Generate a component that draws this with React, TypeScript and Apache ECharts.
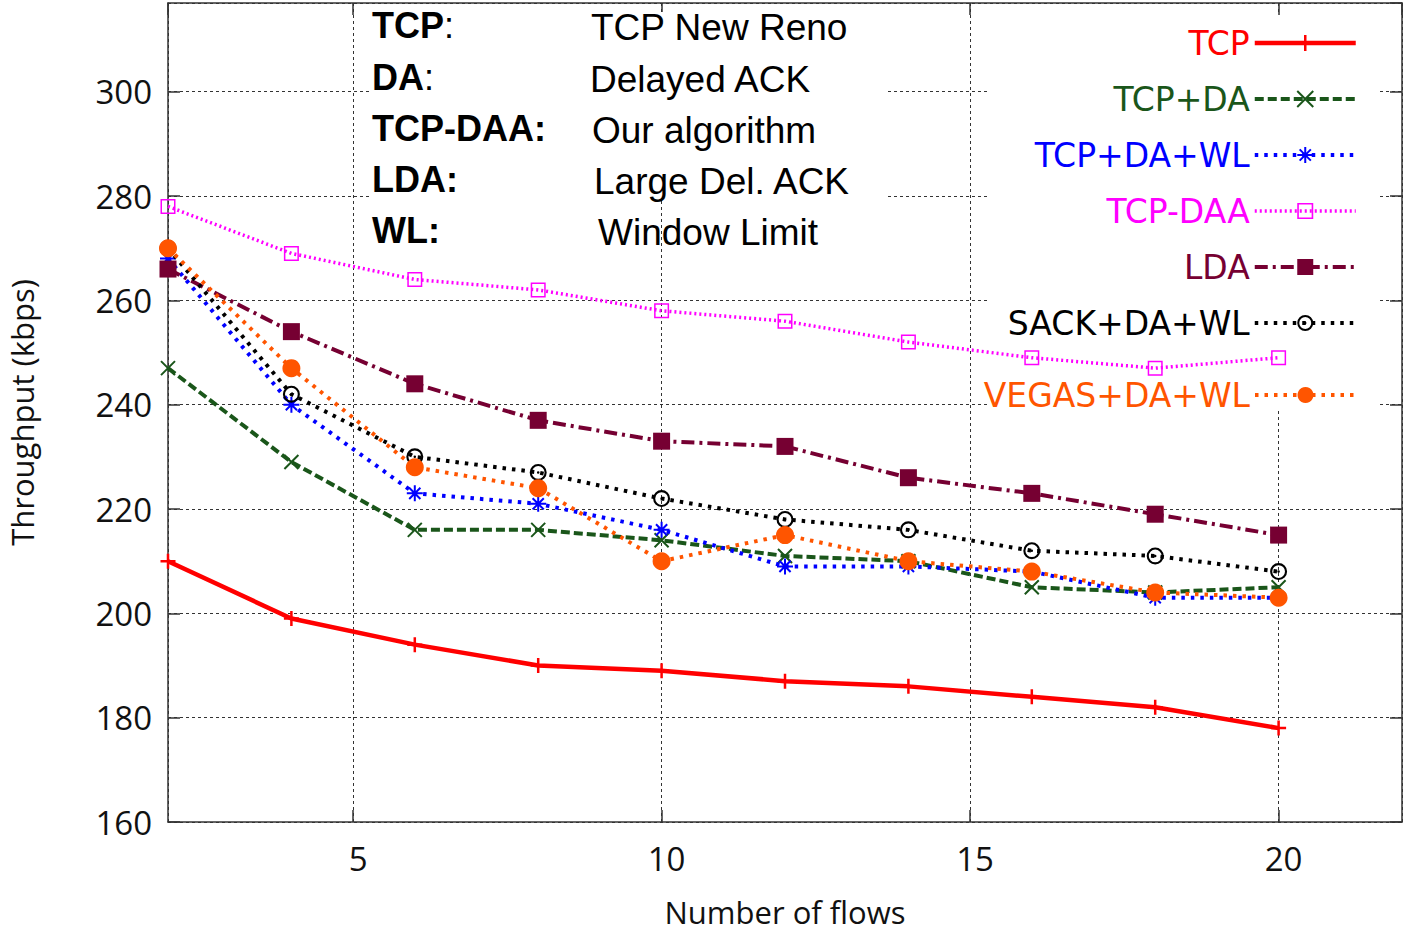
import React, { useEffect, useRef } from 'react';
import * as echarts from 'echarts';

// ---------- data ----------
const flows = [2, 4, 6, 8, 10, 12, 14, 16, 18, 20];
const tcp = [210, 199, 194, 190, 189, 187, 186, 184, 182, 178];
const tcpDa = [247, 229, 216, 216, 214, 211, 210, 205, 204, 205];
const tcpDaWl = [268, 240, 223, 221, 216, 209, 209, 208, 203, 203];
const tcpDaa = [278, 269, 264, 262, 258, 256, 252, 249, 247, 249];
const lda = [266, 254, 244, 237, 233, 232, 226, 223, 219, 215];
const sackDaWl = [270, 242, 230, 227, 222, 218, 216, 212, 211, 208];
const vegasDaWl = [270, 247, 228, 224, 210, 215, 210, 208, 204, 203];

const seriesNames = ['TCP', 'TCP+DA', 'TCP+DA+WL', 'TCP-DAA', 'LDA', 'SACK+DA+WL', 'VEGAS+DA+WL'];
const seriesValues = [tcp, tcpDa, tcpDaWl, tcpDaa, lda, sackDaWl, vegasDaWl];
const xTickValues = [5, 10, 15, 20];

const noteLabels = ['TCP', 'DA', 'TCP-DAA:', 'LDA:', 'WL:'];
const noteColons = [':', ':', '', '', ''];
const noteTexts = ['TCP New Reno', 'Delayed ACK', 'Our algorithm', 'Large Del. ACK', 'Window Limit'];

// ---------- styles ----------
const colors = ['#ff0000', '#1a561a', '#0000ff', '#ff00ff', '#760032', '#000000', '#ff5500'];
const PLUS = 'path://M5,0L5,10M0,5L10,5';
const CROSS = 'path://M0,0L10,10M10,0L0,10';
const STAR = 'path://M5,0L5,10M0,5L10,5M1.5,1.5L8.5,8.5M8.5,1.5L1.5,8.5';
const OPEN_SQUARE = 'path://M0,0L20,0L20,20L0,20ZM2,2L2,18L18,18L18,2Z';
const RING_DOT =
  'path://M0,10A10,10,0,1,1,20,10A10,10,0,1,1,0,10ZM2.5,10A7.5,7.5,0,1,0,17.5,10A7.5,7.5,0,1,0,2.5,10ZM8.5,10A1.5,1.5,0,1,1,11.5,10A1.5,1.5,0,1,1,8.5,10Z';

const styles = [
  { symbol: PLUS, size: 15, width: 4.5, type: 'solid', stroke: 2.5 },
  { symbol: CROSS, size: 14, width: 4, type: [9, 4], stroke: 2 },
  { symbol: STAR, size: 16, width: 4, type: [3.5, 6], stroke: 2 },
  { symbol: OPEN_SQUARE, size: 15, width: 3.5, type: [2, 3], stroke: 0 },
  { symbol: 'rect', size: 17, width: 4, type: [13, 5, 3, 5], stroke: 0 },
  { symbol: RING_DOT, size: 17, width: 4, type: [3.5, 6], stroke: 0 },
  { symbol: 'circle', size: 18, width: 4, type: [3.5, 6], stroke: 0 },
];

const tickFont = { fontFamily: 'Open Sans', fontSize: 33, color: '#111' };
const gridLine = { color: '#333', width: 1, type: [3, 3] as number[] };
const axisLineStyle = { color: '#333', width: 1.5 };

function buildOption(): any {
  const series = seriesNames.map((name, i) => ({
    name,
    type: 'line',
    data: flows.map((f, j) => [f, seriesValues[i][j]]),
    color: colors[i],
    symbol: styles[i].symbol,
    symbolSize: styles[i].size,
    showSymbol: true,
    lineStyle: { color: colors[i], width: styles[i].width, type: styles[i].type },
    itemStyle: {
      color: colors[i],
      borderColor: colors[i],
      borderWidth: styles[i].stroke,
    },
    emphasis: { disabled: true },
    z: 2 + i * 0.01,
  }));

  const legendItems = seriesNames.map((n, i) => ({
    name: n,
    textStyle: { color: colors[i] },
    lineStyle: { color: colors[i], width: styles[i].width, type: styles[i].type },
    itemStyle: { color: colors[i], borderColor: colors[i], borderWidth: styles[i].stroke },
  }));
  const legendBase = {
    orient: 'vertical',
    right: 50,
    align: 'right',
    itemWidth: 101,
    itemHeight: 20,
    itemGap: 16,
    padding: 0,
    selectedMode: false,
    textStyle: { fontFamily: 'DejaVu Sans', fontSize: 33, lineHeight: 40 },
  };

  const rowY = [27, 79, 130, 181, 232];
  const rightX = [591, 590, 592, 594, 598];
  const notes: any[] = [];
  noteLabels.forEach((lab, i) => {
    notes.push({
      type: 'text',
      left: 372,
      top: rowY[i] - 20,
      z: 10,
      style: {
        text: `{b|${lab}}{n|${noteColons[i]}}`,
        rich: {
          b: { fontFamily: 'Liberation Sans', fontSize: 36, fontWeight: 'bold', fill: '#000', lineHeight: 40 },
          n: { fontFamily: 'Liberation Sans', fontSize: 36, fill: '#000', lineHeight: 40 },
        },
      },
    });
    notes.push({
      type: 'text',
      left: rightX[i],
      top: rowY[i] - 20,
      z: 10,
      style: {
        text: noteTexts[i],
        fontFamily: 'Liberation Sans',
        fontSize: 37,
        fill: '#000',
        lineHeight: 40,
      },
    });
  });

  const tickStyle = { show: true, inside: true, length: 12, lineStyle: { color: '#333', width: 1.5 } };

  return {
    animation: false,
    backgroundColor: '#fff',
    grid: { left: 168, right: 6, top: 3, bottom: 111, containLabel: false, outerBoundsMode: 'none' },
    xAxis: [
      {
        type: 'value',
        min: 2,
        max: 22,
        splitNumber: 4,
        position: 'bottom',
        name: 'Number of flows',
        nameLocation: 'middle',
        nameGap: 74,
        nameTextStyle: { fontFamily: 'Open Sans', fontSize: 31, color: '#111' },
        axisLine: { show: true, lineStyle: axisLineStyle },
        axisTick: tickStyle,
        axisLabel: {
          ...tickFont,
          margin: 20,
          padding: [0, 0, 0, 10],
          showMinLabel: false,
          showMaxLabel: false,
          formatter: (v: number) => (xTickValues.includes(v) ? String(v) : ''),
        },
        splitLine: { show: true, lineStyle: gridLine },
      },
      {
        type: 'value',
        min: 2,
        max: 22,
        splitNumber: 4,
        position: 'top',
        axisLine: { show: true, lineStyle: axisLineStyle },
        axisTick: tickStyle,
        axisLabel: { show: false },
        splitLine: { show: false },
      },
    ],
    yAxis: [
      {
        type: 'value',
        min: 160,
        max: 317,
        interval: 20,
        position: 'left',
        name: 'Throughput (kbps)',
        nameLocation: 'middle',
        nameGap: 131,
        nameRotate: 90,
        nameTextStyle: { fontFamily: 'Open Sans', fontSize: 31, color: '#111' },
        axisLine: { show: true, lineStyle: axisLineStyle },
        axisTick: tickStyle,
        axisLabel: { ...tickFont, margin: 16, showMaxLabel: false },
        splitLine: { show: true, lineStyle: gridLine },
      },
      {
        type: 'value',
        min: 160,
        max: 317,
        interval: 20,
        position: 'right',
        axisLine: { show: true, lineStyle: axisLineStyle },
        axisTick: tickStyle,
        axisLabel: { show: false },
        splitLine: { show: false },
      },
    ],
    legend: [
      { ...legendBase, top: 23, data: legendItems.slice(0, 6) },
      { ...legendBase, top: 375, data: legendItems.slice(6) },
    ],
    graphic: [
      { type: 'rect', z: 1, silent: true, shape: { x: 370, y: 12, width: 518, height: 189 }, style: { fill: '#fff' } },
      { type: 'rect', z: 1, silent: true, shape: { x: 990, y: 15, width: 390, height: 395 }, style: { fill: '#fff' } },
      ...notes,
    ],
    series,
  };
}

export default function App() {
  const ref = useRef<HTMLDivElement>(null);
  useEffect(() => {
    if (!ref.current) return;
    const chart = echarts.init(ref.current, null, { renderer: 'svg' });
    chart.setOption(buildOption());
    return () => chart.dispose();
  }, []);
  return (
    <div
      ref={ref}
      style={{ position: 'fixed', left: 0, top: 0, width: 1408, height: 933, background: '#fff' }}
    />
  );
}
